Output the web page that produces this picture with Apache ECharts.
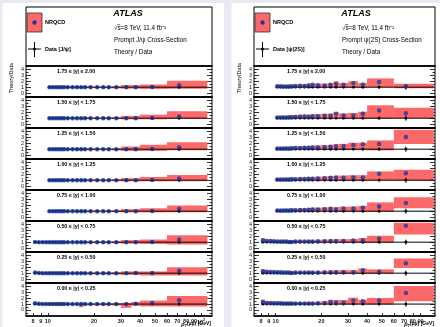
<!DOCTYPE html>
<html><head><meta charset="utf-8">
<script src="https://cdn.jsdelivr.net/npm/echarts@6/dist/echarts.min.js"></script>
<style>html,body{margin:0;padding:0;background:#e9e9f4}#c{width:440px;height:327px}</style>
</head><body><div id="c"></div>
<script>
const n = null;
const ptEdges = [8, 8.5, 9, 9.5, 10, 10.5, 11, 11.5, 12, 12.5, 13, 14, 15, 16, 17, 18, 20, 22, 24, 26, 30, 35, 40, 60, 110];
const ptCenters = [8.25, 8.75, 9.25, 9.75, 10.25, 10.75, 11.25, 11.75, 12.25, 12.75, 13.5, 14.5, 15.5, 16.5, 17.5, 19, 21, 23, 25, 28, 32.5, 37.5, 48, 72];
const rapidityBins = ['1.75 ≤ |y| ≤ 2.00','1.50 ≤ |y| < 1.75','1.25 ≤ |y| < 1.50','1.00 ≤ |y| < 1.25','0.75 ≤ |y| < 1.00','0.50 ≤ |y| < 0.75','0.25 ≤ |y| < 0.50','0.00 ≤ |y| < 0.25'];
const xTickLabels = [8, 9, 10, 20, 30, 40, 50, 60, 70, 80, 90, 100];
const yTickLabels = [0, 1, 2, 3, 4];
const yMinorTicks = [-0.5, 0.5, 1.5, 2.5, 3.5, 4.5];
const dataRatio = 1;
const panelTitles = ['Prompt J/ψ Cross-Section', 'Prompt ψ(2S) Cross-Section'];
const dataLegend = ['Data [J/ψ]', 'Data [ψ(2S)]'];

// J/psi : NRQCD theory / data
const jpsiTheory = [
 [n,n,n,n,1.00,1.00,1.00,1.00,1.00,1.00,1.00,1.00,1.00,1.00,1.00,1.00,1.00,1.00,1.00,1.00,1.00,1.00,1.03,1.35],
 [n,n,n,n,1.00,1.00,1.00,1.00,1.00,1.00,1.00,1.00,1.00,1.00,1.00,1.00,1.00,1.00,1.00,1.00,1.00,1.00,1.05,1.30],
 [n,n,n,n,1.00,1.00,1.00,1.00,1.00,1.00,1.00,1.00,1.00,1.00,1.00,1.00,1.00,1.00,1.00,1.00,1.00,1.00,1.05,1.35],
 [n,n,n,n,1.00,1.00,1.00,1.00,1.00,1.00,1.00,1.00,1.00,1.00,1.00,1.00,1.00,1.00,1.00,1.00,1.00,1.00,1.05,1.30],
 [n,n,n,n,1.00,1.00,1.00,1.00,1.00,1.00,1.00,1.00,1.00,1.00,1.00,1.00,1.00,1.00,1.00,1.00,1.00,1.00,1.05,1.40],
 [1.05,1.00,1.00,1.00,1.00,1.00,1.00,1.00,1.00,1.00,1.00,1.00,1.00,1.00,1.00,1.00,1.00,1.00,1.00,1.00,1.00,1.00,1.05,1.45],
 [1.10,1.05,1.00,1.00,1.00,1.00,1.00,1.00,1.00,1.00,1.00,1.00,1.00,1.00,1.00,1.00,1.00,1.00,1.00,1.00,1.00,1.05,1.05,1.40],
 [1.15,1.05,1.00,1.00,1.00,1.00,1.00,1.00,1.00,1.00,1.00,1.00,1.00,1.00,1.00,1.00,1.00,1.00,1.00,1.00,1.00,1.05,1.20,1.65]
];
const jpsiBandLo = [
 [n,n,n,n,0.85,0.85,0.85,0.85,0.85,0.85,0.85,0.85,0.85,0.85,0.85,0.85,0.85,0.85,0.85,0.80,0.75,0.75,0.70,0.75],
 [n,n,n,n,0.85,0.85,0.85,0.85,0.85,0.85,0.85,0.85,0.85,0.85,0.85,0.85,0.85,0.85,0.85,0.85,0.80,0.80,0.80,0.85],
 [n,n,n,n,0.85,0.85,0.85,0.85,0.85,0.85,0.85,0.85,0.85,0.85,0.85,0.85,0.85,0.85,0.85,0.80,0.70,0.70,0.70,0.80],
 [n,n,n,n,0.85,0.85,0.85,0.85,0.85,0.85,0.85,0.85,0.85,0.85,0.85,0.85,0.85,0.85,0.85,0.85,0.80,0.80,0.80,0.80],
 [n,n,n,n,0.85,0.85,0.85,0.85,0.85,0.85,0.85,0.85,0.85,0.85,0.85,0.85,0.85,0.85,0.85,0.85,0.80,0.80,0.80,0.80],
 [0.85,0.85,0.85,0.85,0.85,0.85,0.85,0.85,0.85,0.85,0.85,0.85,0.85,0.85,0.85,0.85,0.85,0.85,0.85,0.80,0.75,0.75,0.70,0.60],
 [0.85,0.85,0.85,0.85,0.85,0.85,0.85,0.85,0.85,0.85,0.85,0.85,0.85,0.85,0.85,0.80,0.80,0.80,0.80,0.75,0.70,0.70,0.60,0.60],
 [0.85,0.85,0.85,0.85,0.85,0.85,0.85,0.85,0.85,0.85,0.85,0.85,0.85,0.45,0.80,0.80,0.80,0.80,0.80,0.75,0.35,0.70,0.60,0.60]
];
const jpsiBandHi = [
 [n,n,n,n,1.10,1.10,1.10,1.10,1.10,1.10,1.10,1.10,1.10,1.10,1.10,1.10,1.10,1.10,1.10,1.15,1.35,1.35,1.45,2.10],
 [n,n,n,n,1.10,1.10,1.10,1.10,1.10,1.10,1.10,1.10,1.10,1.10,1.10,1.10,1.10,1.10,1.10,1.15,1.40,1.40,1.60,2.20],
 [n,n,n,n,1.10,1.10,1.10,1.10,1.10,1.10,1.10,1.10,1.10,1.10,1.10,1.10,1.10,1.10,1.10,1.15,1.45,1.45,1.75,2.20],
 [n,n,n,n,1.10,1.10,1.10,1.10,1.10,1.10,1.10,1.10,1.10,1.10,1.10,1.10,1.10,1.10,1.10,1.15,1.35,1.35,1.55,1.90],
 [n,n,n,n,1.10,1.10,1.10,1.10,1.10,1.10,1.10,1.10,1.10,1.10,1.10,1.10,1.10,1.10,1.10,1.15,1.35,1.35,1.50,1.95],
 [1.20,1.15,1.10,1.10,1.10,1.10,1.10,1.10,1.10,1.10,1.10,1.10,1.10,1.10,1.10,1.10,1.10,1.10,1.10,1.15,1.35,1.35,1.45,2.20],
 [1.30,1.20,1.15,1.10,1.10,1.10,1.10,1.10,1.10,1.10,1.10,1.10,1.10,1.10,1.10,1.10,1.10,1.10,1.10,1.15,1.30,1.30,1.30,2.00],
 [1.30,1.20,1.15,1.10,1.10,1.10,1.10,1.10,1.10,1.10,1.10,1.10,1.10,1.10,1.10,1.10,1.10,1.10,1.10,1.15,1.20,1.35,1.60,2.40]
];
const jpsiDataErr = [0.05,0.04,0.03,0.03,0.03,0.03,0.03,0.03,0.03,0.03,0.03,0.03,0.03,0.03,0.03,0.03,0.03,0.04,0.04,0.04,0.05,0.06,0.08,0.20];

// psi(2S) : NRQCD theory / data
const psi2sTheory = [
 [n,n,n,n,1.15,1.15,1.10,1.10,1.10,1.15,1.20,1.25,1.20,1.30,1.40,1.35,1.30,1.40,1.55,1.40,1.70,1.45,1.90,1.15],
 [n,n,n,n,1.10,1.10,1.10,1.10,1.15,1.15,1.20,1.25,1.30,1.25,1.35,1.35,1.40,1.40,1.75,1.45,1.45,1.75,2.30,1.85],
 [n,n,n,n,1.10,1.10,1.10,1.10,1.10,1.15,1.20,1.20,1.25,1.25,1.30,1.30,1.35,1.40,1.45,1.55,1.70,1.85,1.90,3.10],
 [n,n,n,n,1.10,1.10,1.10,1.10,1.10,1.15,1.15,1.20,1.20,1.25,1.25,1.30,1.35,1.40,1.45,1.40,1.45,1.45,2.10,2.20],
 [n,n,n,n,1.10,1.10,1.10,1.10,1.10,1.15,1.15,1.20,1.20,1.25,1.30,1.30,1.35,1.40,1.30,1.45,1.45,1.60,1.80,2.40],
 [1.30,1.20,1.20,1.15,1.10,1.10,1.10,1.10,1.05,1.05,1.10,1.10,1.10,1.10,1.10,1.15,1.15,1.20,1.20,1.20,1.30,1.35,1.60,3.80],
 [1.35,1.25,1.20,1.20,1.15,1.15,1.10,1.10,1.10,1.05,1.10,1.10,1.10,1.10,1.10,1.10,1.15,1.15,1.20,1.20,1.20,1.50,1.25,2.70],
 [1.35,1.20,1.20,1.15,1.15,1.15,1.10,1.10,1.10,1.10,1.10,1.10,1.10,1.10,1.10,1.15,1.20,1.30,1.25,1.20,1.60,1.50,1.60,2.90]
];
const psi2sBandLo = [
 [n,n,n,n,0.85,0.85,0.85,0.85,0.85,0.85,0.85,0.85,0.85,0.85,0.85,0.85,0.85,0.85,0.85,0.85,0.90,0.90,1.00,0.80],
 [n,n,n,n,0.85,0.85,0.85,0.85,0.85,0.85,0.85,0.85,0.85,0.85,0.85,0.85,0.85,0.85,0.85,0.85,0.85,0.85,0.90,1.00],
 [n,n,n,n,0.85,0.85,0.85,0.85,0.85,0.85,0.85,0.85,0.85,0.85,0.85,0.85,0.85,0.85,0.85,0.85,0.85,0.85,0.80,1.90],
 [n,n,n,n,0.85,0.85,0.85,0.85,0.85,0.85,0.85,0.85,0.85,0.85,0.85,0.85,0.85,0.85,0.85,0.85,0.85,0.85,0.95,0.95],
 [n,n,n,n,0.85,0.85,0.85,0.85,0.85,0.85,0.85,0.85,0.85,0.85,0.85,0.85,0.85,0.85,0.85,0.85,0.85,0.85,0.90,1.50],
 [1.00,0.90,0.90,0.90,0.85,0.85,0.85,0.85,0.85,0.85,0.85,0.85,0.85,0.85,0.85,0.85,0.85,0.85,0.85,0.85,0.85,0.85,0.90,2.30],
 [1.00,0.95,0.90,0.90,0.85,0.85,0.85,0.85,0.85,0.85,0.85,0.85,0.85,0.85,0.85,0.85,0.85,0.85,0.85,0.85,0.85,0.85,0.90,1.90],
 [0.95,0.90,0.90,0.90,0.90,0.90,0.90,0.90,0.90,0.90,0.90,0.90,0.90,0.90,0.90,0.90,0.90,0.90,0.90,0.90,0.90,0.90,0.90,1.50]
];
const psi2sBandHi = [
 [n,n,n,n,1.40,1.40,1.35,1.35,1.35,1.40,1.45,1.50,1.50,1.60,1.65,1.60,1.60,1.70,2.00,1.70,2.00,1.70,2.50,1.60],
 [n,n,n,n,1.35,1.35,1.40,1.40,1.45,1.50,1.55,1.60,1.60,1.60,1.65,1.70,1.75,1.80,2.00,1.80,1.90,2.10,3.20,2.80],
 [n,n,n,n,1.35,1.35,1.35,1.40,1.40,1.45,1.50,1.50,1.55,1.55,1.60,1.65,1.70,1.75,1.90,1.90,2.10,2.10,2.50,4.30],
 [n,n,n,n,1.35,1.35,1.35,1.40,1.40,1.45,1.45,1.50,1.50,1.55,1.55,1.60,1.65,1.70,1.75,1.80,1.85,1.85,2.50,2.80],
 [n,n,n,n,1.35,1.35,1.35,1.40,1.40,1.45,1.45,1.50,1.50,1.55,1.60,1.60,1.65,1.70,1.70,1.75,1.80,1.90,2.50,3.40],
 [1.70,1.50,1.45,1.40,1.35,1.35,1.35,1.35,1.30,1.30,1.35,1.35,1.35,1.35,1.35,1.40,1.45,1.45,1.50,1.50,1.55,1.70,2.10,4.30],
 [1.70,1.50,1.45,1.40,1.35,1.35,1.30,1.30,1.30,1.30,1.30,1.30,1.30,1.30,1.30,1.35,1.40,1.45,1.45,1.50,1.50,1.80,1.65,3.50],
 [1.75,1.50,1.45,1.40,1.40,1.40,1.35,1.35,1.35,1.35,1.35,1.35,1.35,1.35,1.35,1.40,1.50,1.75,1.70,1.70,2.10,1.75,2.05,4.10]
];
const psi2sDataErr = [0.10,0.08,0.07,0.07,0.06,0.06,0.06,0.06,0.06,0.06,0.06,0.06,0.06,0.07,0.07,0.07,0.08,0.09,0.10,0.10,0.12,0.15,0.18,0.35];

// ---------- layout / style ----------
const FONT = "'Liberation Sans', Arial, Helvetica, sans-serif";
const RED = '#fd6868', BLUE = '#1a3a9c';
const rowTops = [66, 97, 128, 159, 190, 221, 252, 283];
const rowHeights = [31, 31, 31, 31, 31, 31, 31, 33];
const yMax = 4.62, yMinInner = -0.68, yMinBottom = -1.05;
const panelsLayout = [
  {left: 26, width: 186, xMin: 7.2, xMax: 118, bgX: 2.5, bgW: 221.5, ytitleX: 11},
  {left: 254, width: 181, xMin: 7.2, xMax: 112, bgX: 231.5, bgW: 208.5, ytitleX: 239}
];
const panelData = [
  {theory: jpsiTheory, lo: jpsiBandLo, hi: jpsiBandHi, err: jpsiDataErr},
  {theory: psi2sTheory, lo: psi2sBandLo, hi: psi2sBandHi, err: psi2sDataErr}
];
const L = Math.log10;

const grid = [], xAxis = [], yAxis = [], series = [], graphic = [];

function txt(x, y, text, size, opts) {
  opts = opts || {};
  return {type: 'text', x: x, y: y, rotation: opts.rotation || 0, z: 50,
    style: {text: text, fill: opts.color || '#000', fontSize: size, fontFamily: FONT,
      fontWeight: opts.weight || 'normal', fontStyle: opts.style || 'normal',
      align: opts.align || 'left', textAlign: opts.align || 'left',
      verticalAlign: 'middle', textVerticalAlign: 'middle', rich: opts.rich}};
}

panelsLayout.forEach(function (pl, p) {
  const pd = panelData[p];
  // panel background
  graphic.push({type: 'rect', z: -100, shape: {x: pl.bgX, y: 3, width: pl.bgW, height: 324}, style: {fill: '#fff'}});
  // header frame
  graphic.push({type: 'rect', z: 40, shape: {x: pl.left, y: 7, width: pl.width, height: 59}, style: {fill: 'none', stroke: '#000', lineWidth: 1}});
  // legend
  graphic.push({type: 'rect', z: 41, shape: {x: pl.left + 1, y: 13, width: 15, height: 19}, style: {fill: RED, stroke: '#333', lineWidth: 0.8}});
  graphic.push({type: 'circle', z: 42, shape: {cx: pl.left + 8.5, cy: 22.5, r: 2.2}, style: {fill: BLUE}});
  graphic.push({type: 'line', z: 42, shape: {x1: pl.left + 2, y1: 49, x2: pl.left + 15, y2: 49}, style: {stroke: '#000', lineWidth: 1}});
  graphic.push({type: 'line', z: 42, shape: {x1: pl.left + 8.5, y1: 42, x2: pl.left + 8.5, y2: 57}, style: {stroke: '#000', lineWidth: 1}});
  graphic.push({type: 'circle', z: 42, shape: {cx: pl.left + 8.5, cy: 49, r: 1.5}, style: {fill: '#000'}});
  graphic.push(txt(pl.left + 19, 22.5, 'NRQCD', 5.5, {weight: 'bold'}));
  graphic.push(txt(pl.left + 19, 49, dataLegend[p], 5.5, {weight: 'bold'}));
  graphic.push(txt(pl.left + 102, 13.5, 'ATLAS', 9, {weight: 'bold', style: 'italic', align: 'center'}));
  graphic.push(txt(pl.left + 88, 28, '√s=8 TeV, 11.4 fb⁻¹', 6.3));
  graphic.push({type: 'line', z: 42, shape: {x1: pl.left + 91.2, y1: 24.6, x2: pl.left + 94.2, y2: 24.6}, style: {stroke: '#000', lineWidth: 0.5}});
  graphic.push(txt(pl.left + 88, 40, panelTitles[p], 6.3));
  graphic.push(txt(pl.left + 88, 52, 'Theory / Data', 6.3));
  graphic.push(txt(pl.ytitleX, 78, 'Theory/Data', 5.5, {rotation: Math.PI / 2, align: 'center'}));
  graphic.push(txt(pl.left + pl.width - 1, 324, '{i|p}{s|T}{n|(μμ) [GeV]}', 5, {align: 'right', rich: {
    i: {fontSize: 5.5, fontStyle: 'italic', fontWeight: 'bold', fontFamily: FONT},
    s: {fontSize: 3.6, fontWeight: 'bold', fontFamily: FONT, padding: [3, 0, 0, 0]},
    n: {fontSize: 5, fontWeight: 'bold', fontFamily: FONT}}}));

  rowTops.forEach(function (top, r) {
    const g = grid.length;
    const last = r === rowTops.length - 1;
    const yMin = last ? yMinBottom : yMinInner;
    grid.push({left: pl.left, top: top, width: pl.width, height: rowHeights[r], show: true,
      borderColor: '#000', borderWidth: 1, backgroundColor: 'transparent'});
    const xi = xAxis.length;
    const xBase = {type: 'value', gridIndex: g, min: L(pl.xMin), max: L(pl.xMax), splitLine: {show: false}};
    xAxis.push(Object.assign({}, xBase, {position: 'bottom',
      axisLine: {show: true, onZero: false, lineStyle: {color: '#000', width: 1.6}},
      axisTick: {show: last, inside: true, length: 3, customValues: xTickLabels.map(L), lineStyle: {color: '#000', width: 0.8}},
      axisLabel: {show: last, customValues: xTickLabels.map(L), fontSize: 5.5, fontFamily: FONT, fontWeight: 'bold',
        color: '#222', margin: 2, hideOverlap: false,
        formatter: function (v) { const t = Math.round(Math.pow(10, v)); return t === 100 ? '{a|10}{s|2}' : '{a|' + t + '}'; },
        rich: {a: {fontSize: 5.5, fontWeight: 'bold', fontFamily: FONT, color: '#222'},
               s: {fontSize: 3.8, fontFamily: FONT, color: '#222', padding: [0, 0, 4, 0]}}}}));
    xAxis.push(Object.assign({}, xBase, {position: 'top',
      axisLine: {show: true, onZero: false, lineStyle: {color: '#000', width: 1.6}},
      axisTick: {show: false}, axisLabel: {show: false}}));
    const yi = yAxis.length;
    const yBase = {type: 'value', gridIndex: g, min: yMin, max: yMax, splitLine: {show: false},
      axisLine: {show: false, onZero: false}};
    yAxis.push(Object.assign({}, yBase, {position: 'left',
      axisTick: {show: true, inside: true, length: 5, customValues: yTickLabels, lineStyle: {color: '#000', width: 0.8}},
      axisLabel: {show: true, customValues: yTickLabels, fontSize: 5.5, fontFamily: FONT, color: '#222', margin: 2,
        formatter: function (v) { return String(Math.round(v)); }}}));
    yAxis.push(Object.assign({}, yBase, {position: 'left',
      axisTick: {show: true, inside: true, length: 2.5, customValues: yMinorTicks, lineStyle: {color: '#000', width: 0.8}},
      axisLabel: {show: false}}));
    yAxis.push(Object.assign({}, yBase, {position: 'right',
      axisTick: {show: true, inside: true, length: 5, customValues: yTickLabels, lineStyle: {color: '#000', width: 0.8}},
      axisLabel: {show: false}}));
    yAxis.push(Object.assign({}, yBase, {position: 'right',
      axisTick: {show: true, inside: true, length: 2.5, customValues: yMinorTicks, lineStyle: {color: '#000', width: 0.8}},
      axisLabel: {show: false}}));

    const bands = [], dataPts = [], nrqcd = [];
    pd.theory[r].forEach(function (v, i) {
      if (v == null) return;
      bands.push([L(ptEdges[i]), L(ptEdges[i + 1]), pd.lo[r][i], pd.hi[r][i]]);
      dataPts.push([L(ptCenters[i]), dataRatio, L(ptEdges[i]), L(ptEdges[i + 1]), pd.err[i]]);
      nrqcd.push([L(ptCenters[i]), v]);
    });
    series.push({type: 'custom', xAxisIndex: xi, yAxisIndex: yi, clip: true, silent: true, z: 1,
      encode: {x: [0, 1], y: [2, 3]}, data: bands,
      renderItem: function (params, api) {
        const a = api.coord([api.value(0), api.value(3)]);
        const b = api.coord([api.value(1), api.value(2)]);
        return {type: 'rect', shape: {x: a[0], y: a[1], width: b[0] - a[0], height: b[1] - a[1]}, style: {fill: RED}};
      }});
    series.push({type: 'custom', xAxisIndex: xi, yAxisIndex: yi, clip: true, silent: true, z: 2,
      encode: {x: 0, y: 1}, data: dataPts,
      renderItem: function (params, api) {
        const c = api.coord([api.value(0), api.value(1)]);
        const a = api.coord([api.value(2), api.value(1)]);
        const b = api.coord([api.value(3), api.value(1)]);
        const t = api.coord([api.value(0), api.value(1) + api.value(4)]);
        const u = api.coord([api.value(0), api.value(1) - api.value(4)]);
        return {type: 'group', children: [
          {type: 'line', shape: {x1: a[0], y1: a[1], x2: b[0], y2: b[1]}, style: {stroke: '#000', lineWidth: 1}},
          {type: 'line', shape: {x1: t[0], y1: t[1] - 0.5, x2: u[0], y2: u[1] + 0.5}, style: {stroke: '#000', lineWidth: 1}},
          {type: 'circle', shape: {cx: c[0], cy: c[1], r: 1.4}, style: {fill: '#000'}}
        ]};
      }});
    series.push({type: 'scatter', xAxisIndex: xi, yAxisIndex: yi, silent: true, z: 3, symbol: 'circle', symbolSize: 4.5,
      itemStyle: {color: BLUE}, data: nrqcd});
    graphic.push(txt(pl.left + (p === 0 ? 31 : 33), top + 5.8, rapidityBins[r], 5.3, {weight: 'bold'}));
  });
});

const chart = echarts.init(document.getElementById('c'), null, {renderer: 'canvas'});
chart.setOption({animation: false, backgroundColor: '#e9e9f4', grid: grid, xAxis: xAxis, yAxis: yAxis, series: series, graphic: graphic});
</script>
</body></html>
